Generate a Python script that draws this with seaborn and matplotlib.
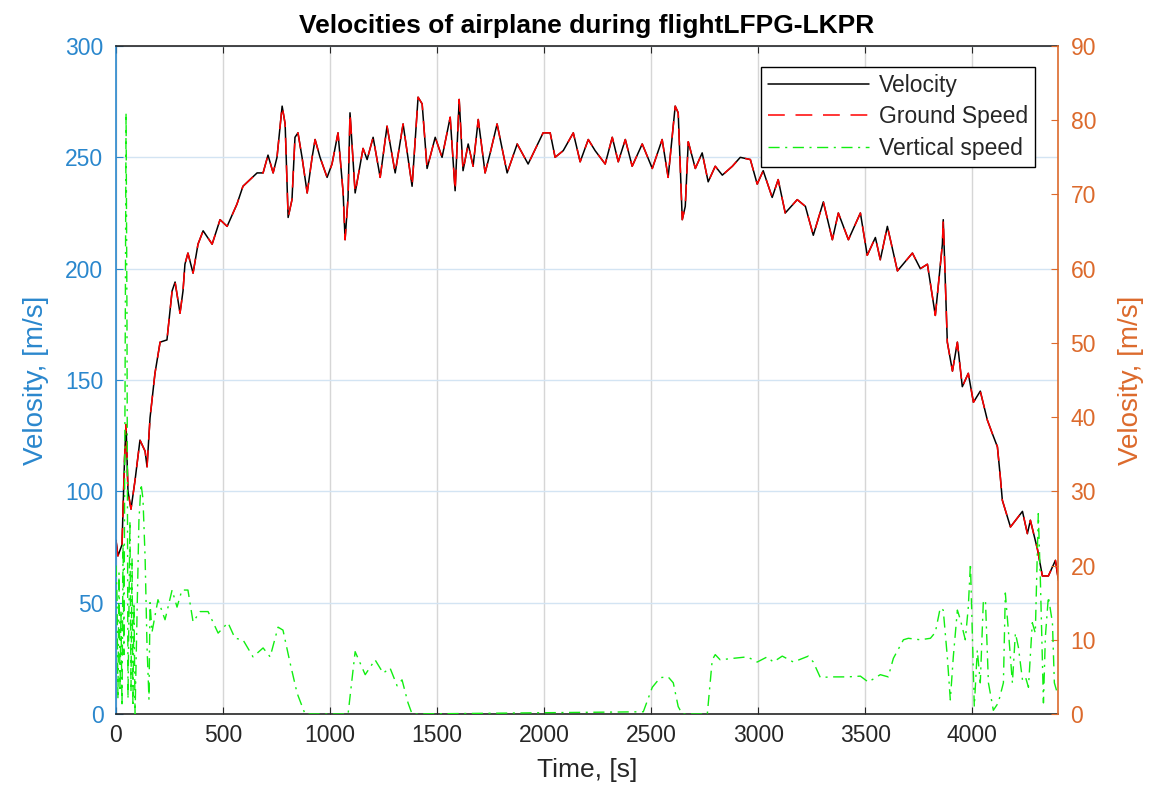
import matplotlib
matplotlib.use("Agg")
import matplotlib.pyplot as plt
import seaborn as sns

# ---------------- data ----------------
time_v = [0, 9, 28, 40, 47, 56, 70, 89, 112, 136, 145, 159, 182, 206, 238, 262, 276, 299, 313, 322,
          336, 360, 383, 407, 449, 486, 519, 565, 593, 659, 687, 710, 734, 752, 776, 790, 804, 822,
          836, 850, 869, 893, 916, 930, 953, 986, 1009, 1037, 1061, 1070, 1084, 1093, 1117, 1154,
          1173, 1201, 1234, 1266, 1304, 1341, 1383, 1411, 1430, 1453, 1491, 1523, 1561, 1584, 1603,
          1621, 1645, 1668, 1692, 1724, 1748, 1780, 1827, 1874, 1925, 1995, 2028, 2051, 2089, 2136,
          2168, 2206, 2238, 2285, 2318, 2346, 2379, 2411, 2458, 2505, 2551, 2579, 2612, 2626, 2645,
          2659, 2673, 2706, 2738, 2766, 2799, 2832, 2879, 2916, 2963, 2995, 3023, 3065, 3093, 3126,
          3182, 3220, 3257, 3304, 3346, 3374, 3421, 3477, 3509, 3547, 3570, 3603, 3650, 3720, 3757,
          3790, 3827, 3860, 3864, 3883, 3907, 3930, 3953, 3981, 4005, 4037, 4070, 4093, 4117, 4131,
          4140, 4178, 4234, 4257, 4271, 4304, 4327, 4355, 4388, 4402]
velocity = [78, 71, 76, 115, 130, 100, 92, 105, 123, 118, 111, 133, 153, 167, 168, 190, 194, 180, 190, 202,
            207, 198, 211, 217, 211, 222, 219, 229, 237, 243, 243, 251, 243, 250, 273, 265, 223, 231,
            259, 261, 250, 234, 250, 258, 250, 241, 247, 261, 234, 213, 232, 270, 234, 254,
            249, 259, 241, 264, 243, 265, 237, 277, 274, 245, 259, 250, 268, 235, 276,
            244, 256, 246, 267, 243, 252, 265, 243, 256, 247, 261, 261, 250, 253, 261,
            248, 258, 253, 247, 259, 248, 258, 246, 256, 245, 258, 241, 273, 270, 222,
            228, 257, 245, 252, 239, 246, 242, 246, 250, 249, 238, 244, 232, 240, 225,
            231, 228, 215, 230, 213, 225, 213, 225, 206, 214, 204, 219, 199, 207, 200,
            202, 179, 211, 222, 167, 154, 167, 147, 153, 140, 145, 132, 126, 120, 106,
            96, 84, 91, 81, 87, 74, 62, 62, 69, 60]
ground_speed = list(velocity)  # overlaps the velocity trace in the reference

time_vs = [0, 5, 9, 14, 19, 23, 28, 33, 37, 42, 47, 51, 56, 61, 65, 70, 75, 79, 84, 89, 98, 107, 117,
           126, 136, 145, 154, 159, 168, 196, 229, 262, 285, 308, 336, 360, 393, 430, 477, 523, 556,
           593, 640, 687, 720, 757, 780, 813, 846, 883, 1084, 1117, 1164, 1210, 1248, 1280, 1313,
           1336, 1364, 1383, 2463, 2505, 2542, 2579, 2603, 2626, 2645, 2762, 2785, 2799, 2822, 2883,
           2949, 2995, 3042, 3070, 3112, 3164, 3234, 3257, 3290, 3336, 3416, 3477, 3514, 3570, 3607,
           3631, 3678, 3701, 3757, 3804, 3827, 3850, 3864, 3883, 3897, 3911, 3930, 3944, 3967, 3981,
           3991, 4000, 4009, 4023, 4037, 4051, 4061, 4075, 4098, 4121, 4145, 4154, 4168, 4187, 4201,
           4215, 4234, 4248, 4262, 4280, 4294, 4308, 4318, 4332, 4341, 4355, 4374, 4383, 4397]
vertical_speed = [20, 15.4, 2, 19, 3, 14, 1, 23, 8, 42, 81, 55, 2, 15, 26, 3, 21, 1, 15, 0, 13, 26, 31,
                  29, 21, 9, 2, 15, 11, 15.4, 12.7, 16.7, 14.4, 16.7, 16.7, 12.4, 13.8, 13.8, 10.9, 12.3, 10.2,
                  10, 7.7, 8.9, 7.7, 11.7, 11.3, 6.9, 2.8, 0, 0, 8.4, 5.3, 7.3, 5.5, 6.2, 3.8,
                  4.6, 1.5, 0, 0.3, 3.6, 4.9, 5.0, 4.2, 1, 0, 0, 7.3, 8, 7.3, 7.5,
                  7.7, 7, 7.7, 7, 7.8, 7, 7.8, 7, 4.9, 5, 5, 5.1, 4.3, 5.3, 5,
                  7.5, 10, 10.2, 10, 10.2, 11, 14.3, 14, 7.7, 1.9, 7.7, 14, 12.7, 10, 14.4,
                  20.3, 10.4, 1, 8.6, 4.2, 15, 15.4, 4.2, 0.5, 1.5, 4.2, 16.3, 11.3, 4.2, 10.9,
                  9, 4.6, 5, 3.6, 12.3, 10.9, 27, 17.7, 1.5, 10.4, 15.8, 12.3, 4.2, 2.8]

x_ticks = [0, 500, 1000, 1500, 2000, 2500, 3000, 3500, 4000]
left_ticks = [0, 50, 100, 150, 200, 250, 300]
right_ticks = [0, 10, 20, 30, 40, 50, 60, 70, 80, 90]

# ---------------- style ----------------
sns.set_style("ticks")
plt.rcParams['font.family'] = ['Liberation Sans', 'DejaVu Sans']

BLUE = '#2a87cd'
ORANGE = '#dc6a2c'
DARK = '#262626'

fig = plt.figure(figsize=(11.62, 7.98), dpi=100)
ax = fig.add_axes([116 / 1162, 1 - 714 / 798, (1058 - 116) / 1162, (714 - 46) / 798])
ax2 = ax.twinx()

sns.lineplot(x=time_v, y=velocity, ax=ax, color='black', linewidth=1.1, legend=False)
sns.lineplot(x=time_v, y=ground_speed, ax=ax, color='red', linewidth=1.1,
             linestyle=(0, (11, 7)), legend=False)
sns.lineplot(x=time_vs, y=vertical_speed, ax=ax2, color='#11ee11', linewidth=1.0,
             linestyle=(0, (8, 4, 1.5, 4)), legend=False)

ax.set_xlim(0, 4400)
ax.set_ylim(0, 300)
ax2.set_ylim(0, 90)
ax.set_xticks(x_ticks)
ax.set_yticks(left_ticks)
ax2.set_yticks(right_ticks)

ax.grid(False)
ax.xaxis.grid(True, color='#d6d6d6', linewidth=1.0)
ax.yaxis.grid(True, color='#d3e4f3', linewidth=1.0)
ax.set_axisbelow(True)

for s in ['top', 'bottom']:
    ax.spines[s].set_color(DARK)
    ax2.spines[s].set_visible(False)
ax.spines['left'].set_color(BLUE)
ax.spines['right'].set_visible(False)
ax2.spines['left'].set_visible(False)
ax2.spines['right'].set_color(ORANGE)
for a in (ax, ax2):
    for s in a.spines.values():
        s.set_linewidth(1.2)

ax.tick_params(axis='x', direction='in', top=True, colors=DARK, labelsize=16.5, length=5, pad=7)
ax.tick_params(axis='y', direction='in', colors=BLUE, labelsize=16.5, length=5, pad=9)
ax2.tick_params(axis='y', direction='in', colors=ORANGE, labelsize=16.5, length=5, pad=9)

ax.set_xlabel('Time, [s]', fontsize=19, color=DARK, labelpad=8)
ax.set_ylabel('Velosity, [m/s]', fontsize=20, color=BLUE, labelpad=12)
ax2.set_ylabel('Velosity, [m/s]', fontsize=20, color=ORANGE, labelpad=16)
ax.set_title('Velocities of airplane during flightLFPG-LKPR', fontsize=19, fontweight='bold',
             color='black', pad=9)

h1 = ax.get_lines()[0]
h2 = ax.get_lines()[1]
h3 = ax2.get_lines()[0]
leg = ax2.legend([h1, h2, h3], ['Velocity', 'Ground Speed', 'Vertical speed'],
                 loc='upper right', bbox_to_anchor=(0.9755, 0.969), fontsize=16.5,
                 frameon=True, fancybox=False, edgecolor='black', framealpha=1,
                 handlelength=4.4, handletextpad=0.45, borderpad=0.3, labelspacing=0.38,
                 borderaxespad=0)
leg.get_frame().set_linewidth(1.0)

fig.savefig('out.png', dpi=100)
